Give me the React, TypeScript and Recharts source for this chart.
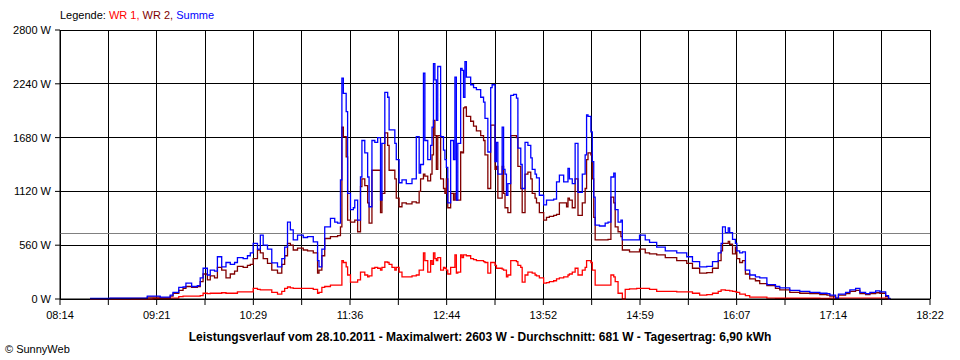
import { LineChart, Line, XAxis, YAxis, CartesianGrid, ReferenceLine } from 'recharts';

// Leistungsverlauf 28.10.2011, Werte in W
const times = [
  '08:35', '08:49', '09:03', '09:15', '09:19', '09:24', '09:31', '09:33', '09:37', '09:40',
  '09:42', '09:46', '09:50', '09:52', '09:54', '09:57', '09:59', '10:02', '10:04', '10:07',
  '10:10', '10:13', '10:16', '10:18', '10:22', '10:25', '10:27', '10:29', '10:32', '10:34',
  '10:36', '10:39', '10:42', '10:46', '10:49', '10:51', '10:53', '10:55', '10:57', '11:00',
  '11:04', '11:07', '11:11', '11:14', '11:15', '11:17', '11:19', '11:23', '11:26', '11:28',
  '11:30', '11:31', '11:32', '11:34', '11:35', '11:37', '11:39', '11:40', '11:42', '11:44',
  '11:45', '11:47', '11:49', '11:50', '11:52', '11:54', '11:56', '11:58', '11:59', '12:01',
  '12:03', '12:04', '12:06', '12:08', '12:09', '12:11', '12:13', '12:16', '12:20', '12:23',
  '12:25', '12:26', '12:28', '12:29', '12:31', '12:33', '12:34', '12:35', '12:36', '12:37',
  '12:38', '12:40', '12:42', '12:43', '12:44', '12:45', '12:47', '12:49', '12:50', '12:51',
  '12:52', '12:54', '12:55', '12:56', '12:57', '12:58', '13:01', '13:03', '13:05', '13:08',
  '13:10', '13:11', '13:13', '13:15', '13:16', '13:18', '13:19', '13:20', '13:23', '13:24',
  '13:25', '13:26', '13:27', '13:29', '13:31', '13:33', '13:34', '13:36', '13:37', '13:39',
  '13:41', '13:43', '13:44', '13:46', '13:47', '13:49', '13:52', '13:54', '13:56', '13:59',
  '14:01', '14:03', '14:06', '14:08', '14:09', '14:10', '14:12', '14:14', '14:16', '14:19',
  '14:21', '14:22', '14:23', '14:25', '14:26', '14:27', '14:28', '14:31', '14:35', '14:37',
  '14:39', '14:41', '14:42', '14:44', '14:46', '14:47', '14:49', '14:52', '14:57', '14:59',
  '15:03', '15:06', '15:11', '15:17', '15:25', '15:32', '15:36', '15:41', '15:46', '15:50',
  '15:54', '15:56', '15:57', '15:59', '16:01', '16:02', '16:04', '16:06', '16:07', '16:09',
  '16:11', '16:13', '16:16', '16:20', '16:23', '16:28', '16:34', '16:37', '16:44', '16:51',
  '16:58', '17:05', '17:10', '17:12', '17:16', '17:18', '17:23', '17:26', '17:30', '17:33',
  '17:37', '17:40', '17:44', '17:47', '17:51', '17:53', '17:54',
];

const summe = [
  5, 8, 10, 30, 30, 20, 40, 70, 120, 125,
  165, 130, 140, 220, 320, 250, 300, 290, 440, 335,
  380, 360, 380, 430, 420, 450, 480, 580, 520, 665,
  560, 520, 375, 335, 420, 540, 800, 720, 615, 665,
  640, 650, 595, 400, 335, 520, 750, 840, 800, 790,
  1240, 2300, 2140, 1950, 1100, 930, 950, 1030, 820, 1270,
  1650, 1520, 1270, 960, 1650, 1630, 1680, 1030, 1620, 2150,
  2100, 1760, 1760, 1620, 1450, 1210, 1240, 1200, 1250, 1690,
  1310, 1400, 2350, 1650, 1450, 1600, 1790, 2450, 2280, 1860,
  2420, 1690, 1550, 1450, 1370, 1000, 1650, 1450, 2310, 1030,
  1620, 2400, 2380, 2100, 2470, 2310, 2230, 2200, 2180, 2100,
  2050, 1880, 1530, 2200, 2230, 1430, 1630, 1300, 1790, 1350,
  1300, 1080, 1200, 2120, 2130, 2090, 1570, 1400, 1150, 1630,
  1600, 1470, 1350, 1300, 1260, 1080, 980, 1030, 1030, 1040,
  1220, 1290, 1220, 1220, 1360, 1250, 1200, 1620, 1110, 1300,
  1500, 1915, 1900, 1740, 1430, 1060, 770, 760, 790, 800,
  1270, 1310, 930, 800, 820, 615, 615, 615, 615, 665,
  615, 590, 540, 500, 480, 440, 390, 335, 340, 390,
  480, 580, 750, 690, 740, 690, 620, 580, 500, 480,
  490, 300, 250, 230, 220, 150, 130, 115, 90, 80,
  70, 60, 55, 40, 10, 50, 70, 95, 110, 70,
  55, 70, 85, 75, 35, 5, 0,
];

const wr2 = [
  3, 5, 6, 20, 20, 12, 30, 60, 90, 110,
  130, 120, 130, 180, 260, 200, 240, 220, 330, 300,
  220, 260, 290, 340, 330, 350, 360, 420, 510, 480,
  420, 370, 300, 270, 360, 450, 580, 560, 510, 530,
  510, 500, 480, 270, 300, 450, 630, 650, 650, 660,
  750, 1790, 1690, 1480, 820, 800, 800, 820, 700, 1170,
  1250, 1180, 1000, 790, 1340, 1340, 1340, 900, 1100, 1730,
  1600, 1340, 1340, 1250, 1050, 960, 1000, 990, 1010, 1000,
  1120, 1250, 1300, 1280, 1230, 1300, 1500, 1860, 1700, 1350,
  1700, 1250, 1150, 1100, 1250, 950, 1100, 1030, 1100, 1030,
  1030, 1530, 1520, 1990, 2000, 1900, 1850, 1800, 1750, 1700,
  1650, 1500, 1150, 1810, 1810, 1350, 1380, 1050, 1380, 1100,
  950, 950, 900, 1700, 1700, 1680, 1380, 1150, 900, 1300,
  1320, 1250, 1100, 1050, 1000, 900, 820, 850, 860, 870,
  880, 1000, 1000, 960, 1050, 1030, 950, 1250, 870, 1000,
  1150, 1450, 1520, 1500, 1250, 850, 615, 615, 615, 620,
  1060, 1000, 750, 700, 650, 510, 510, 490, 490, 520,
  480, 470, 460, 430, 400, 370, 320, 270, 275, 320,
  400, 500, 580, 580, 600, 570, 470, 540, 420, 380,
  400, 260, 210, 190, 160, 140, 110, 95, 70, 60,
  55, 45, 40, 30, 5, 40, 55, 80, 90, 55,
  45, 55, 65, 60, 25, 3, 0,
];

const wr1 = [
  0, 0, 0, 0, 5, 5, 10, 10, 25, 30,
  30, 30, 30, 35, 60, 55, 60, 60, 60, 65,
  60, 60, 60, 75, 75, 75, 75, 110, 100, 95,
  95, 95, 70, 50, 80, 110, 125, 115, 110, 110,
  110, 110, 100, 60, 70, 120, 130, 145, 145, 145,
  145, 400, 380, 335, 250, 175, 175, 175, 200, 280,
  280, 250, 230, 240, 320, 330, 320, 300, 330, 385,
  380, 360, 330, 300, 330, 280, 230, 230, 240, 250,
  300, 300, 480, 400, 280, 400, 360, 480, 420, 400,
  430, 300, 330, 320, 300, 260, 330, 330, 460, 270,
  280, 460, 430, 460, 460, 450, 420, 410, 400, 400,
  390, 380, 270, 380, 380, 350, 320, 320, 310, 300,
  300, 230, 250, 400, 400, 390, 350, 330, 175, 250,
  280, 280, 270, 250, 240, 220, 165, 170, 180, 190,
  210, 220, 230, 230, 250, 260, 280, 320, 250, 300,
  330, 400, 400, 380, 300, 300, 145, 145, 145, 145,
  250, 230, 180, 60, 60, 0, 100, 105, 110, 110,
  110, 100, 80, 80, 75, 75, 60, 40, 45, 60,
  80, 95, 95, 90, 90, 85, 80, 75, 70, 50,
  50, 35, 20, 20, 20, 10, 8, 8, 8, 8,
  8, 5, 5, 10, 10, 10, 10, 10, 10, 10,
  10, 10, 10, 10, 5, 0, 0,
];

const xLabels = ['08:14', '09:21', '10:29', '11:36', '12:44', '13:52', '14:59', '16:07', '17:14', '18:22'];
const yTicks = [0, 560, 1120, 1680, 2240, 2800];
const average = 681;

const font = '"Liberation Sans", Arial, sans-serif';

const toMin = (t: string) => {
  const [h, m] = t.split(':').map(Number);
  return h * 60 + m;
};

const xStart = toMin(xLabels[0]);
const xEnd = toMin(xLabels[xLabels.length - 1]);
const steps = (xLabels.length - 1) * 2;
const gridTicks = Array.from({ length: steps + 1 }, (_, i) => xStart + (i * (xEnd - xStart)) / steps);

const data = times.map((t, i) => ({ t: toMin(t), wr1: wr1[i], wr2: wr2[i], summe: summe[i] }));

const xTickLabel = (v: number) => {
  const i = Math.round(((v - xStart) * steps) / (xEnd - xStart));
  return i % 2 === 0 ? xLabels[i / 2] : '';
};

export default function App() {
  return (
    <div style={{ position: 'absolute', left: 0, top: 0, width: 960, height: 360, background: '#fff', fontFamily: font }}>
      <LineChart width={960} height={360} data={data} margin={{ top: 30, right: 30, left: 0, bottom: 0 }}>
        <CartesianGrid stroke="#000" strokeWidth={1} shapeRendering="crispEdges" />
        <XAxis
          dataKey="t"
          type="number"
          domain={[xStart, xEnd]}
          ticks={gridTicks}
          interval={0}
          tickFormatter={xTickLabel}
          height={61}
          stroke="#000"
          tickSize={6}
          tickMargin={6}
          tick={{ fill: '#000', fontSize: 11, fontFamily: font }}
        />
        <YAxis
          domain={[0, 2800]}
          ticks={yTicks}
          interval={0}
          width={60}
          stroke="#000"
          tickSize={5}
          tickMargin={4}
          tickFormatter={(v: number) => `${v} W`}
          tick={{ fill: '#000', fontSize: 11, fontFamily: font }}
        />
        <ReferenceLine y={average} stroke="#808080" strokeWidth={1} shapeRendering="crispEdges" />
        <Line type="stepAfter" dataKey="wr1" stroke="#ff0000" strokeWidth={1.3} dot={false} isAnimationActive={false} />
        <Line type="stepAfter" dataKey="wr2" stroke="#800000" strokeWidth={1.3} dot={false} isAnimationActive={false} />
        <Line type="stepAfter" dataKey="summe" stroke="#0000ff" strokeWidth={1.3} dot={false} isAnimationActive={false} />
      </LineChart>
      <div style={{ position: 'absolute', left: 60, top: 9, fontSize: 11, lineHeight: '13px', whiteSpace: 'nowrap' }}>
        Legende: <span style={{ color: '#ff0000' }}>WR 1, </span>
        <span style={{ color: '#800000' }}>WR 2, </span>
        <span style={{ color: '#0000ff' }}>Summe</span>
      </div>
      <div style={{ position: 'absolute', left: 0, width: 960, top: 330, fontSize: 12, lineHeight: '14px', fontWeight: 'bold', textAlign: 'center' }}>
        Leistungsverlauf vom 28.10.2011 - Maximalwert: 2603 W - Durchschnitt: 681 W - Tagesertrag: 6,90 kWh
      </div>
      <div style={{ position: 'absolute', left: 5, top: 343, fontSize: 11, lineHeight: '13px' }}>© SunnyWeb</div>
    </div>
  );
}
